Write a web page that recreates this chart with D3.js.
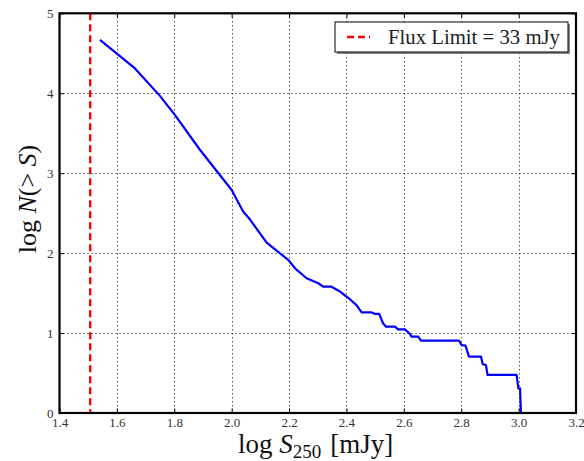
<!DOCTYPE html>
<html>
<head>
<meta charset="utf-8">
<script src="https://cdn.jsdelivr.net/npm/d3@7"></script>
<style>
  html, body { margin: 0; padding: 0; background: #fff; }
  svg { display: block; }
  text { font-family: "Liberation Serif", "DejaVu Serif", serif; }
</style>
</head>
<body>
<svg id="chart" width="584" height="461"></svg>
<script>
// ---- data ----
const logS = [1.541, 1.663, 1.750, 1.802, 1.890, 2.000, 2.040, 2.064, 2.122, 2.197, 2.221, 2.261, 2.302, 2.319, 2.348, 2.377, 2.400, 2.412, 2.435, 2.453, 2.488, 2.499, 2.514, 2.528, 2.538, 2.569, 2.580, 2.604, 2.621, 2.627, 2.650, 2.660, 2.793, 2.801, 2.815, 2.827, 2.869, 2.875, 2.886, 2.892, 2.993, 2.999, 3.005, 3.008];
const logN = [4.668, 4.310, 3.967, 3.730, 3.290, 2.790, 2.520, 2.420, 2.130, 1.915, 1.810, 1.686, 1.623, 1.580, 1.580, 1.520, 1.456, 1.423, 1.350, 1.258, 1.258, 1.240, 1.240, 1.120, 1.080, 1.080, 1.047, 1.047, 0.989, 0.955, 0.955, 0.905, 0.905, 0.851, 0.843, 0.705, 0.705, 0.610, 0.600, 0.476, 0.476, 0.309, 0.309, 0.0];
const fluxLimit = 1.507;
const fluxLabel = "Flux Limit = 33 mJy";
const xTicks = [1.4, 1.6, 1.8, 2.0, 2.2, 2.4, 2.6, 2.8, 3.0, 3.2];
const yTicks = [0, 1, 2, 3, 4, 5];

// ---- layout ----
const svg = d3.select("#chart");
const L = 59.5, R = 576, T = 13.3, B = 413;
const x = d3.scaleLinear().domain([1.4, 3.2]).range([L, R]);
const y = d3.scaleLinear().domain([0, 5]).range([B, T]);
const SERIF = '"Liberation Serif", "DejaVu Serif", serif';

// grid
const grid = svg.append("g").attr("stroke", "#000").attr("stroke-width", 1)
  .attr("stroke-dasharray", "1,3");
grid.selectAll(".gx").data(xTicks.slice(1, -1)).enter().append("line")
  .attr("x1", d => Math.round(x(d)) + 0.5).attr("x2", d => Math.round(x(d)) + 0.5)
  .attr("y1", T).attr("y2", B);
grid.selectAll(".gy").data(yTicks.slice(1, -1)).enter().append("line")
  .attr("y1", d => Math.round(y(d)) + 0.5).attr("y2", d => Math.round(y(d)) + 0.5)
  .attr("x1", L).attr("x2", R);

// flux limit line
svg.append("line")
  .attr("x1", x(fluxLimit)).attr("x2", x(fluxLimit))
  .attr("y1", T).attr("y2", B)
  .attr("stroke", "#ff0000").attr("stroke-width", 2.4)
  .attr("stroke-dasharray", "7,4");

// curve
const line = d3.line().x((d, i) => x(logS[i])).y((d, i) => y(logN[i]));
svg.append("path").datum(logS)
  .attr("d", line)
  .attr("fill", "none").attr("stroke", "#0000ff").attr("stroke-width", 2.2)
  .attr("stroke-linejoin", "round");

// axes (ticks inward on all sides)
const tickLen = 4.5;
const axB = d3.axisBottom(x).tickValues(xTicks).tickFormat(d3.format(".1f")).tickSizeInner(-tickLen).tickSizeOuter(0).tickPadding(5);
const axT = d3.axisTop(x).tickValues(xTicks).tickFormat("").tickSizeInner(-tickLen).tickSizeOuter(0);
const axL = d3.axisLeft(y).tickValues(yTicks).tickFormat(d3.format("d")).tickSizeInner(-tickLen).tickSizeOuter(0).tickPadding(6);
const axR = d3.axisRight(y).tickValues(yTicks).tickFormat("").tickSizeInner(-tickLen).tickSizeOuter(0);

function style(g) {
  g.attr("font-family", SERIF).attr("font-size", 13);
  g.select(".domain").remove();
  g.selectAll(".tick line").attr("stroke", "#000").attr("stroke-width", 1);
  g.selectAll(".tick text").attr("fill", "#333").style("font-family", SERIF);
}
svg.append("g").attr("transform", `translate(0,${B})`).call(axB).call(style);
svg.append("g").attr("transform", `translate(0,${T})`).call(axT).call(style);
svg.append("g").attr("transform", `translate(${L},0)`).call(axL).call(style);
svg.append("g").attr("transform", `translate(${R},0)`).call(axR).call(style);

// frame
svg.append("rect").attr("x", L).attr("y", T).attr("width", R - L).attr("height", B - T)
  .attr("fill", "none").attr("stroke", "#000").attr("stroke-width", 2.2);

// axis labels
const xl = svg.append("text").attr("x", 238).attr("y", 453)
  .attr("text-anchor", "start").style("font-size", "27px").attr("fill", "#111");
xl.append("tspan").text("log ");
xl.append("tspan").attr("font-style", "italic").text("S");
xl.append("tspan").attr("dy", 5).style("font-size", "19px").text("250");
xl.append("tspan").attr("dy", -5).attr("dx", 9).text("[mJy]");

const yl = svg.append("text").attr("transform", "translate(36,199) rotate(-90)")
  .attr("text-anchor", "middle").style("font-size", "26px").attr("fill", "#111");
yl.append("tspan").text("log ");
yl.append("tspan").attr("font-style", "italic").text("N");
yl.append("tspan").text("(> ");
yl.append("tspan").attr("font-style", "italic").text("S");
yl.append("tspan").text(")");

// legend
const lg = svg.append("g");
lg.append("rect").attr("x", 337).attr("y", 24).attr("width", 233).attr("height", 30)
  .attr("fill", "#888");
lg.append("rect").attr("x", 335).attr("y", 22).attr("width", 233).attr("height", 30)
  .attr("fill", "#fff").attr("stroke", "#000").attr("stroke-width", 1);
lg.append("line").attr("x1", 347).attr("x2", 370).attr("y1", 37).attr("y2", 37)
  .attr("stroke", "#ff0000").attr("stroke-width", 2.4).attr("stroke-dasharray", "7,4");
lg.append("text").attr("x", 388).attr("y", 43.5).style("font-size", "21px").attr("fill", "#222")
  .attr("textLength", 172).attr("lengthAdjust", "spacingAndGlyphs")
  .text(fluxLabel);
</script>
</body>
</html>
